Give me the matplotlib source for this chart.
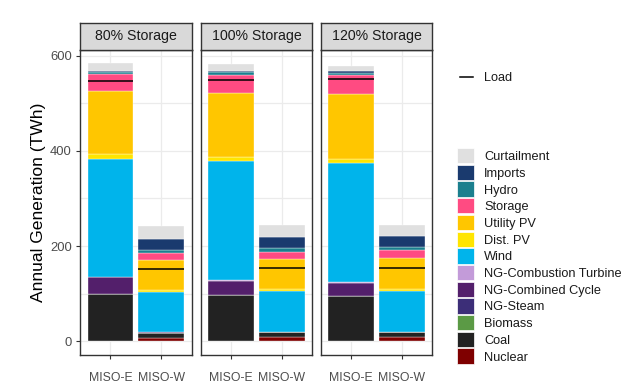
import numpy as np
import matplotlib.pyplot as plt
from matplotlib.patches import Rectangle
from matplotlib.lines import Line2D

plt.rcParams['font.family'] = ['Liberation Sans', 'DejaVu Sans']

facets = ['80% Storage', '100% Storage', '120% Storage']
regions = ['MISO-E', 'MISO-W']

# stacking order, bottom -> top
techs = ['Nuclear', 'Coal', 'Biomass', 'NG-Steam', 'NG-Combined Cycle',
         'NG-Combustion Turbine', 'Wind', 'Dist. PV', 'Utility PV', 'Storage',
         'Hydro', 'Imports', 'Curtailment']
colors = ['#7F0000', '#222222', '#5B9A45', '#3C2E78', '#531F6B',
          '#C39BD9', '#00B4EB', '#FFE500', '#FFC600', '#FF4B82',
          '#1B7F8E', '#1A3A6E', '#E0E0E0']

# values in TWh, per facet: [MISO-E, MISO-W]
gen = {
    '80% Storage': {
        'Nuclear': [0, 7.5], 'Coal': [99, 10.5], 'Biomass': [1, 0],
        'NG-Steam': [0, 0], 'NG-Combined Cycle': [34, 0.3],
        'NG-Combustion Turbine': [1, 0], 'Wind': [249, 86],
        'Dist. PV': [8.5, 4], 'Utility PV': [133, 62.5], 'Storage': [36.5, 14],
        'Hydro': [4, 7], 'Imports': [3, 23], 'Curtailment': [15, 28]},
    '100% Storage': {
        'Nuclear': [0, 7.8], 'Coal': [97, 10.5], 'Biomass': [1, 0],
        'NG-Steam': [0, 0], 'NG-Combined Cycle': [29, 0.3],
        'NG-Combustion Turbine': [1, 0], 'Wind': [250, 86],
        'Dist. PV': [10, 5], 'Utility PV': [134, 63], 'Storage': [38.5, 15.5],
        'Hydro': [5, 8], 'Imports': [3.5, 22], 'Curtailment': [13, 26]},
    '120% Storage': {
        'Nuclear': [0, 7.8], 'Coal': [94, 10.5], 'Biomass': [1, 0],
        'NG-Steam': [0, 0], 'NG-Combined Cycle': [28, 0.3],
        'NG-Combustion Turbine': [1, 0], 'Wind': [250, 86.4],
        'Dist. PV': [9, 4.5], 'Utility PV': [137, 66], 'Storage': [40, 16],
        'Hydro': [4, 7], 'Imports': [5, 21.5], 'Curtailment': [9, 24]},
}
load = {'80% Storage': [547, 152], '100% Storage': [549, 154], '120% Storage': [551, 154]}

W, H = 640, 383
fig = plt.figure(figsize=(6.4, 3.83), dpi=100)

panel_x = [80, 200.7, 320.7]
panel_w = 111.7
panel_top, panel_bot = 50, 355
strip_top = 22.7

x = np.arange(1, len(regions) + 1)
axes = []
for k, f in enumerate(facets):
    ax = fig.add_axes([panel_x[k] / W, (H - panel_bot) / H, panel_w / W,
                       (panel_bot - panel_top) / H])
    bottom = np.zeros(len(regions))
    for t, c in zip(techs, colors):
        v = np.array(gen[f][t], dtype=float)
        ax.bar(x, v, width=0.9, bottom=bottom, color=c, edgecolor='white',
               linewidth=0.25, zorder=2)
        bottom += v
    ax.hlines(load[f], x - 0.45, x + 0.45, color='black', linewidth=1.1, zorder=3)

    ax.set_xlim(0.4, 2.6)
    ax.set_ylim(-29.2, 612.2)
    ax.set_xticks(x)
    ax.set_xticklabels(regions)
    ax.set_yticks([0, 200, 400, 600])
    ax.set_yticks([100, 300, 500], minor=True)
    ax.grid(True, which='both', color='#EBEBEB', linewidth=0.9, zorder=0)
    ax.set_axisbelow(True)
    ax.tick_params(axis='both', colors='#333333', length=3, width=0.8,
                   labelcolor='#4D4D4D')
    ax.tick_params(axis='x', labelsize=8.8, pad=9)
    ax.tick_params(axis='y', labelsize=9.4, pad=3)
    ax.tick_params(axis='y', which='minor', length=0)
    for s in ax.spines.values():
        s.set_color('#333333')
        s.set_linewidth(1.0)
    if k > 0:
        ax.tick_params(axis='y', which='both', left=False, labelleft=False)
    axes.append(ax)

    sx = fig.add_axes([panel_x[k] / W, (H - panel_top) / H, panel_w / W,
                       (panel_top - strip_top) / H])
    sx.set_facecolor('#D9D9D9')
    sx.set_xticks([])
    sx.set_yticks([])
    for s in sx.spines.values():
        s.set_color('#333333')
        s.set_linewidth(1.0)
    sx.text(0.5, 0.5, f, ha='center', va='center', fontsize=10.2,
            color='#1A1A1A', transform=sx.transAxes)

axes[0].set_ylabel('Annual Generation (TWh)', fontsize=12.6, labelpad=3)

# legends, placed in figure pixel coordinates
def fx(px):
    return px / W

def fy(py):
    return 1 - py / H

fig.add_artist(Line2D([fx(460), fx(473)], [fy(76.7), fy(76.7)], color='black',
                      linewidth=1.1, transform=fig.transFigure))
fig.text(fx(484), fy(76.7), 'Load', fontsize=9.2, va='center_baseline',
         ha='left', color='#1A1A1A')

key_w, key_h, row = 17, 15.3, 16.7
for i, (t, c) in enumerate(zip(techs[::-1], colors[::-1])):
    yc = 155.7 + row * i
    fig.add_artist(Rectangle((fx(457), fy(yc + key_h / 2)), key_w / W, key_h / H,
                             facecolor=c, edgecolor='white', linewidth=0.5,
                             transform=fig.transFigure))
    fig.text(fx(484), fy(yc), t, fontsize=9.2, va='center_baseline', ha='left',
             color='#1A1A1A')

plt.savefig('out.png', dpi=100)
